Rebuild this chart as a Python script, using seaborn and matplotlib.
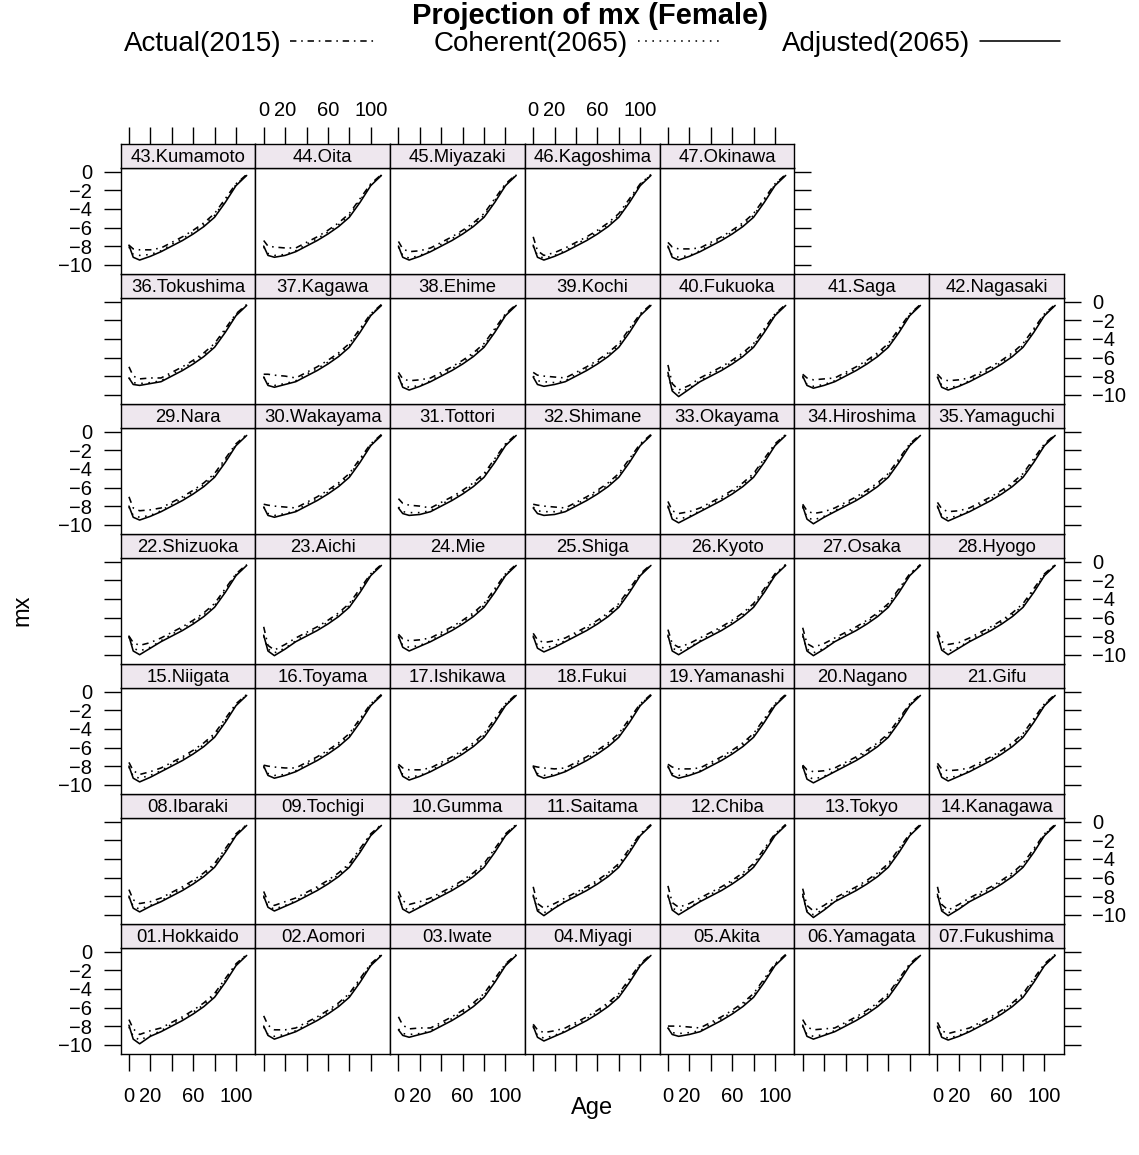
import pandas as pd
import matplotlib
matplotlib.use("Agg")
import matplotlib.pyplot as plt
import seaborn as sns
from matplotlib.lines import Line2D

# prefectures, numbered as in the panels (01 = bottom left, read row by row upwards)
prefectures = ["01.Hokkaido", "02.Aomori", "03.Iwate", "04.Miyagi", "05.Akita", "06.Yamagata",
               "07.Fukushima", "08.Ibaraki", "09.Tochigi", "10.Gumma", "11.Saitama", "12.Chiba",
               "13.Tokyo", "14.Kanagawa", "15.Niigata", "16.Toyama", "17.Ishikawa", "18.Fukui",
               "19.Yamanashi", "20.Nagano", "21.Gifu", "22.Shizuoka", "23.Aichi", "24.Mie",
               "25.Shiga", "26.Kyoto", "27.Osaka", "28.Hyogo", "29.Nara", "30.Wakayama",
               "31.Tottori", "32.Shimane", "33.Okayama", "34.Hiroshima", "35.Yamaguchi",
               "36.Tokushima", "37.Kagawa", "38.Ehime", "39.Kochi", "40.Fukuoka", "41.Saga",
               "42.Nagasaki", "43.Kumamoto", "44.Oita", "45.Miyazaki", "46.Kagoshima", "47.Okinawa"]

# young ages differ by prefecture, old ages look the same in every panel
young_ages = [0, 4, 10, 20]
old_ages = [30, 40, 50, 60, 70, 80, 90, 100, 110]

# log mx at young ages, one row per prefecture
actual_young = [
    [-7.3, -8.3, -8.9, -8.5], [-6.9, -7.9, -8.4, -8.4], [-7.0, -7.9, -8.3, -8.2], [-7.8, -8.4, -8.7, -8.5],
    [-8.0, -8.0, -8.0, -8.1], [-7.3, -8.1, -8.4, -8.3], [-7.6, -8.5, -8.8, -8.5], [-7.3, -8.4, -8.8, -8.6],
    [-7.5, -8.6, -9.0, -8.6], [-7.5, -8.5, -8.9, -8.6], [-7.0, -8.8, -9.3, -8.8], [-6.9, -8.7, -9.2, -8.8],
    [-7.2, -9.0, -9.6, -9.0], [-7.0, -8.9, -9.5, -8.9], [-7.6, -8.5, -8.9, -8.6], [-7.9, -8.0, -8.1, -8.2],
    [-7.8, -8.2, -8.4, -8.4], [-8.0, -8.1, -8.2, -8.3], [-7.8, -8.1, -8.3, -8.3], [-7.9, -8.4, -8.6, -8.5],
    [-7.7, -8.3, -8.5, -8.4], [-8.0, -8.7, -9.0, -8.7], [-7.0, -9.0, -9.5, -8.9], [-7.8, -8.3, -8.5, -8.4],
    [-7.7, -8.4, -8.7, -8.5], [-7.3, -8.8, -9.2, -8.8], [-7.1, -8.8, -9.2, -8.8], [-7.5, -8.6, -8.9, -8.7],
    [-7.0, -8.2, -8.5, -8.4], [-7.8, -7.9, -8.0, -8.1], [-7.2, -7.7, -7.9, -8.0], [-7.8, -7.9, -8.0, -8.1],
    [-7.5, -8.5, -8.8, -8.6], [-7.8, -8.5, -8.8, -8.6], [-7.6, -8.3, -8.6, -8.5], [-7.0, -8.0, -8.3, -8.2],
    [-7.8, -7.8, -7.9, -8.0], [-7.6, -8.3, -8.5, -8.4], [-7.6, -7.9, -8.0, -8.1], [-6.8, -8.8, -9.5, -9.0],
    [-7.8, -8.2, -8.4, -8.3], [-7.8, -8.3, -8.5, -8.4], [-7.9, -8.3, -8.4, -8.4], [-7.4, -8.0, -8.1, -8.2],
    [-7.5, -8.3, -8.6, -8.5], [-7.0, -8.5, -9.0, -8.7], [-7.6, -8.1, -8.3, -8.3],
]
coherent_young = [
    [-8.1, -9.1, -9.5, -9.0], [-8.1, -8.9, -9.1, -8.9], [-8.3, -8.8, -8.9, -8.8], [-8.1, -9.0, -9.3, -9.0],
    [-8.2, -8.7, -8.8, -8.7], [-8.0, -8.9, -9.1, -8.9], [-8.1, -9.0, -9.3, -9.0], [-8.1, -9.1, -9.4, -9.0],
    [-8.1, -9.1, -9.4, -9.0], [-8.1, -9.2, -9.5, -9.1], [-8.0, -9.4, -9.8, -9.2], [-8.0, -9.3, -9.6, -9.2],
    [-8.0, -9.6, -10.0, -9.4], [-8.0, -9.4, -9.8, -9.3], [-8.1, -9.1, -9.3, -9.0], [-8.1, -8.8, -9.0, -8.9],
    [-8.1, -8.9, -9.2, -9.0], [-8.1, -8.8, -9.0, -8.9], [-8.1, -8.8, -9.0, -8.9], [-8.1, -9.1, -9.4, -9.1],
    [-8.1, -9.0, -9.3, -9.0], [-8.1, -9.3, -9.6, -9.2], [-8.0, -9.4, -9.8, -9.3], [-8.1, -9.0, -9.2, -9.0],
    [-8.1, -9.0, -9.3, -9.0], [-8.0, -9.3, -9.6, -9.2], [-8.0, -9.4, -9.8, -9.3], [-8.0, -9.3, -9.6, -9.2],
    [-8.1, -9.0, -9.2, -9.0], [-8.1, -8.8, -9.0, -8.8], [-8.1, -8.6, -8.7, -8.7], [-8.1, -8.5, -8.6, -8.6],
    [-8.1, -9.1, -9.4, -9.1], [-8.1, -9.2, -9.5, -9.1], [-8.1, -9.0, -9.3, -9.0], [-8.2, -8.7, -8.8, -8.7],
    [-8.1, -8.8, -9.0, -8.8], [-8.1, -9.0, -9.2, -9.0], [-8.0, -8.5, -8.6, -8.7], [-7.9, -9.4, -9.8, -9.3],
    [-8.1, -8.9, -9.1, -8.9], [-8.1, -9.0, -9.3, -9.0], [-8.1, -8.9, -9.0, -8.9], [-8.1, -8.8, -9.0, -8.9],
    [-8.1, -9.0, -9.3, -9.0], [-8.0, -9.0, -9.3, -9.0], [-8.1, -9.0, -9.2, -9.0],
]
adjusted_young = [
    [-7.9, -9.4, -9.9, -9.1], [-8.0, -9.0, -9.4, -9.0], [-8.4, -9.0, -9.2, -8.9], [-8.0, -9.2, -9.6, -9.1],
    [-8.2, -8.9, -9.1, -8.9], [-7.9, -9.1, -9.4, -9.0], [-8.0, -9.2, -9.5, -9.1], [-8.0, -9.3, -9.7, -9.1],
    [-8.0, -9.2, -9.6, -9.1], [-8.0, -9.4, -9.8, -9.2], [-7.9, -9.6, -10.1, -9.3], [-7.9, -9.5, -10.0, -9.3],
    [-7.8, -9.7, -10.3, -9.5], [-7.8, -9.6, -10.1, -9.4], [-8.0, -9.3, -9.7, -9.2], [-8.0, -9.0, -9.3, -9.0],
    [-8.0, -9.1, -9.5, -9.1], [-8.0, -9.0, -9.3, -9.0], [-8.0, -9.0, -9.3, -9.0], [-8.0, -9.4, -9.8, -9.2],
    [-8.0, -9.2, -9.6, -9.1], [-8.0, -9.6, -10.0, -9.3], [-7.9, -9.6, -10.1, -9.4], [-8.0, -9.2, -9.6, -9.1],
    [-8.0, -9.3, -9.7, -9.2], [-7.9, -9.6, -10.0, -9.3], [-7.8, -9.6, -10.1, -9.4], [-7.9, -9.5, -10.0, -9.3],
    [-8.0, -9.2, -9.5, -9.1], [-8.1, -9.0, -9.2, -8.9], [-8.2, -8.8, -9.0, -8.9], [-8.2, -8.8, -9.0, -8.9],
    [-8.0, -9.4, -9.8, -9.2], [-8.0, -9.4, -9.9, -9.2], [-8.0, -9.2, -9.6, -9.1], [-8.2, -8.9, -9.0, -8.8],
    [-8.1, -9.0, -9.2, -8.9], [-8.0, -9.2, -9.5, -9.1], [-8.1, -8.9, -9.1, -8.9], [-7.6, -9.6, -10.2, -9.4],
    [-8.0, -9.0, -9.3, -9.0], [-8.1, -9.2, -9.5, -9.1], [-7.9, -9.2, -9.5, -9.1], [-8.0, -9.0, -9.2, -9.0],
    [-8.0, -9.2, -9.5, -9.1], [-7.9, -9.2, -9.5, -9.1], [-8.0, -9.2, -9.5, -9.1],
]
# log mx at old ages (shared by all panels)
actual_old = [-8.2, -7.6, -7.0, -6.3, -5.5, -4.5, -2.9, -1.3, -0.3]
coherent_old = [-8.5, -7.8, -7.2, -6.5, -5.7, -4.7, -3.1, -1.4, -0.35]
adjusted_old = [-8.6, -8.0, -7.4, -6.7, -5.9, -4.9, -3.3, -1.5, -0.4]

series_names = ["Actual(2015)", "Coherent(2065)", "Adjusted(2065)"]
dash_styles = {"Actual(2015)": (4, 3, 1, 3), "Coherent(2065)": (1, 3.5), "Adjusted(2065)": ""}

sns.set_theme(style="white")
plt.rcParams['font.family'] = ['Liberation Sans', 'DejaVu Sans']

W, H = 1139, 1155
fig = plt.figure(figsize=(W / 100, H / 100), dpi=100)

pw, ph, sh = 134.75, 106, 24
left0, top0, pitch = 120.7, 144, 130
tick_len = 12
lw = 1.15
tick_fs = 14.5

ages = young_ages + old_ages
for i, name in enumerate(prefectures):
    r = 6 - i // 7
    c = i % 7
    x0 = left0 + c * pw
    st = top0 + r * pitch
    pb = st + pitch
    ax = fig.add_axes([x0 / W, 1 - pb / H, pw / W, ph / H])
    sax = fig.add_axes([x0 / W, 1 - (st + sh) / H, pw / W, sh / H])

    df = pd.DataFrame({
        "age": ages * 3,
        "mx": actual_young[i] + actual_old + coherent_young[i] + coherent_old
              + adjusted_young[i] + adjusted_old,
        "series": [s for s in series_names for _ in ages],
    })
    sns.lineplot(data=df, x="age", y="mx", style="series", dashes=dash_styles,
                 color="black", lw=lw, estimator=None, legend=False, ax=ax)

    ax.set_xlim(-7.7, 118.2)
    ax.set_ylim(-11.0, 0.4)
    ax.set_xlabel("")
    ax.set_ylabel("")
    ax.set_xticks([0, 20, 40, 60, 80, 100])
    ax.set_xticklabels(["0", "20", "", "60", "", "100"])
    ax.set_yticks([0, -2, -4, -6, -8, -10])
    ax.set_yticklabels(["0", "\u22122", "\u22124", "\u22126", "\u22128", "\u221210"])
    ax.grid(False)
    for sp in ax.spines.values():
        sp.set_color("black")
        sp.set_linewidth(1.0)
    last_col = 4 if r == 0 else 6
    ax.tick_params(axis="both", direction="out", length=tick_len, width=1.0, color="black",
                   labelsize=tick_fs, labelcolor="black",
                   bottom=(r == 6), labelbottom=(r == 6 and c % 2 == 0),
                   top=False, labeltop=False,
                   left=(c == 0), labelleft=(c == 0 and r % 2 == 0),
                   right=(c == last_col), labelright=(c == last_col and r % 2 == 1))
    ax.tick_params(axis="x", pad=11.5)
    ax.tick_params(axis="y", pad=8.5)

    sax.set_facecolor("#EEE7EE")
    sax.set_xlim(-7.7, 118.2)
    sax.set_yticks([])
    for sp in sax.spines.values():
        sp.set_color("black")
        sp.set_linewidth(1.0)
    if r == 0:
        sax.set_xticks([0, 20, 40, 60, 80, 100])
        sax.set_xticklabels(["0", "20", "", "60", "", "100"])
        sax.tick_params(axis="x", direction="out", length=tick_len, width=1.0, color="black",
                        labelsize=tick_fs, labelcolor="black", pad=5,
                        bottom=False, labelbottom=False, top=True, labeltop=(c in (1, 3)))
    else:
        sax.set_xticks([])
    sax.text(0.5, 0.45, name, transform=sax.transAxes, ha="center", va="center",
             fontsize=13.3, color="black")

# title and legend
fig.text(590 / W, 1 - 16 / H, "Projection of mx (Female)", ha="center", va="center",
         fontsize=21, fontweight="bold", color="black")
legend_items = [("Actual(2015)", 282, 290, 375), ("Coherent(2065)", 628, 638, 720),
                ("Adjusted(2065)", 970, 980, 1060)]
for label, tx, k0, k1 in legend_items:
    fig.text(tx / W, 1 - 44 / H, label, ha="right", va="center", fontsize=20, color="black")
    line = Line2D([k0 / W, k1 / W], [1 - 41 / H, 1 - 41 / H], transform=fig.transFigure,
                  color="black", lw=lw)
    if dash_styles[label]:
        line.set_dashes(dash_styles[label])
    fig.add_artist(line)

fig.text(22 / W, 1 - 610 / H, "mx", rotation=90, ha="center", va="center",
         fontsize=17, color="black")
fig.text(592 / W, 1 - 1108 / H, "Age", ha="center", va="center", fontsize=17, color="black")

fig.savefig("out.png", dpi=100, facecolor="white")
